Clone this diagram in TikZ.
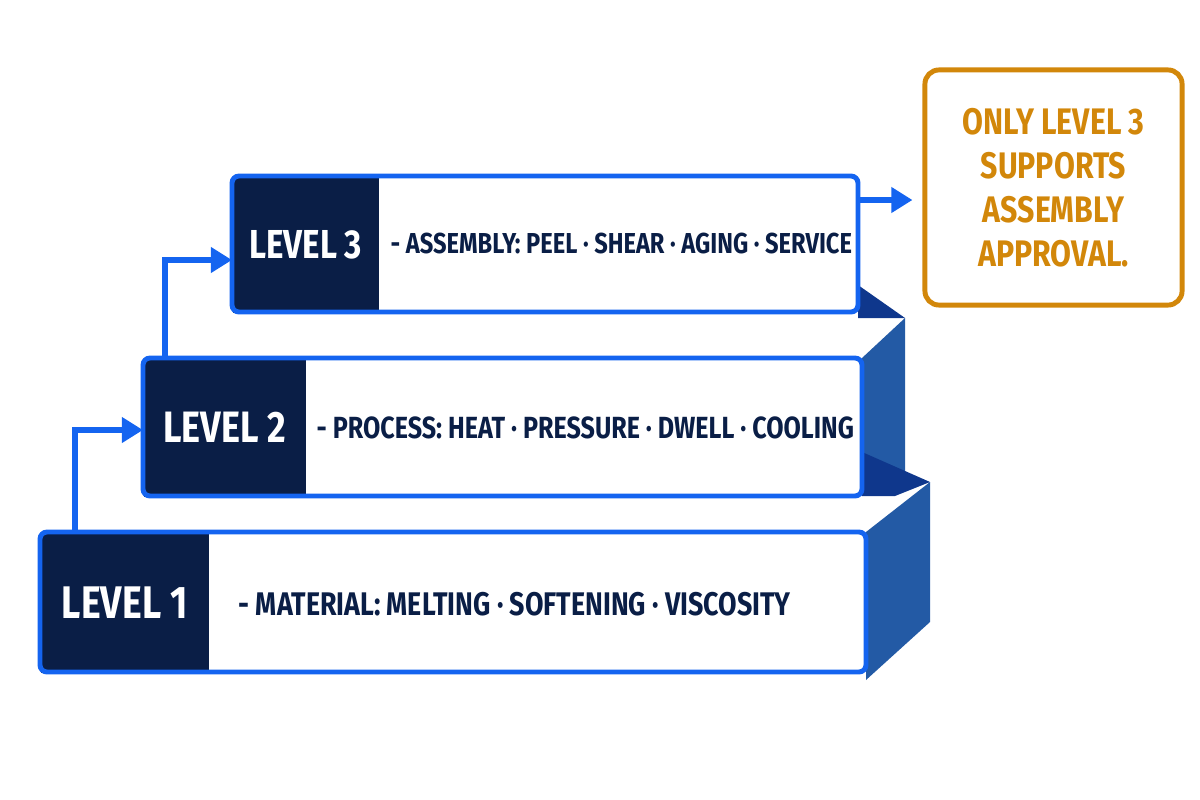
\documentclass[tikz,border=0pt]{standalone}
\usepackage{fontspec}
\usepackage{graphicx}
\setmainfont{Fira Sans}
\usetikzlibrary{arrows.meta,positioning}
\definecolor{lvlblue}{RGB}{20,100,240}
\definecolor{lvlnavy}{RGB}{10,30,70}
\definecolor{sideblue}{RGB}{35,90,165}
\definecolor{sidedark}{RGB}{15,55,140}
\definecolor{noteorange}{RGB}{210,135,10}
\newcommand{\narrow}[1]{\scalebox{0.82}[1]{#1}}
\tikzset{
  frame/.style={lvlblue, line width=1.4pt, rounded corners=2pt},
  tag/.style={fill=lvlnavy, text=white, font=\bfseries\fontsize{#1}{12}\selectfont, anchor=north west, inner sep=0pt},
  desc/.style={text=lvlnavy, font=\bfseries\fontsize{#1}{10}\selectfont, anchor=west, inner sep=0pt},
  rise/.style={lvlblue, line width=1.6pt, -{Triangle[length=6pt,width=7pt]}},
}
\begin{document}
\begin{tikzpicture}[x=0.01cm,y=-0.01cm]
  \useasboundingbox (0,0) rectangle (1200,800);

  % side faces
  \fill[sideblue] (866,532) -- (930,482) -- (930,622) -- (866,680) -- cycle;
  \fill[sideblue] (862,358) -- (905,318) -- (905,475) -- (862,496) -- cycle;
  \fill[sidedark] (862,452) -- (930,482) -- (895,496) -- (862,496) -- cycle;
  \fill[sidedark] (858,285) -- (905,318) -- (858,318) -- cycle;

  % level 1
  \fill[white] (40,532) rectangle (866,672);
  \node[tag=13, minimum width=1.68cm, minimum height=1.4cm] (t1) at (40,532) {\narrow{LEVEL 1}};
  \node[desc=9.3] (d1) at (238,604) {\narrow{- MATERIAL: MELTING · SOFTENING · VISCOSITY}};
  \draw[frame] (40,532) rectangle (866,672);

  % level 2
  \fill[white] (143,358) rectangle (862,496);
  \node[tag=12.5, minimum width=1.62cm, minimum height=1.38cm] (t2) at (143,358) {\narrow{LEVEL 2}};
  \node[desc=8.7] (d2) at (316,428) {\narrow{- PROCESS: HEAT · PRESSURE · DWELL · COOLING}};
  \draw[frame] (143,358) rectangle (862,496);

  % level 3
  \fill[white] (232,176) rectangle (858,312);
  \node[tag=11.5, minimum width=1.46cm, minimum height=1.36cm] (t3) at (232,176) {\narrow{LEVEL 3}};
  \node[desc=8.2] (d3) at (390,244) {\narrow{- ASSEMBLY: PEEL · SHEAR · AGING · SERVICE}};
  \draw[frame] (232,176) rectangle (858,312);

  % note
  \node[draw=noteorange, line width=1.4pt, rounded corners=4pt, minimum width=2.57cm, minimum height=2.35cm,
        text=noteorange, font=\bfseries\fontsize{10.5}{12.5}\selectfont, align=center] (note) at (1053.5,187.5)
        {\narrow{ONLY LEVEL 3}\\\narrow{SUPPORTS}\\\narrow{ASSEMBLY}\\\narrow{APPROVAL.}};

  % connectors
  \coordinate (u1) at (75,532);
  \coordinate (u2) at (165,358);
  \coordinate (r3) at (858,200);
  \draw[rise] (u1) |- (t2.west |- 0,430);
  \draw[rise] (u2) |- (t3.west |- 0,260);
  \draw[rise] (r3) -- ([xshift=-0.1cm]note.west |- r3);
\end{tikzpicture}
\end{document}
